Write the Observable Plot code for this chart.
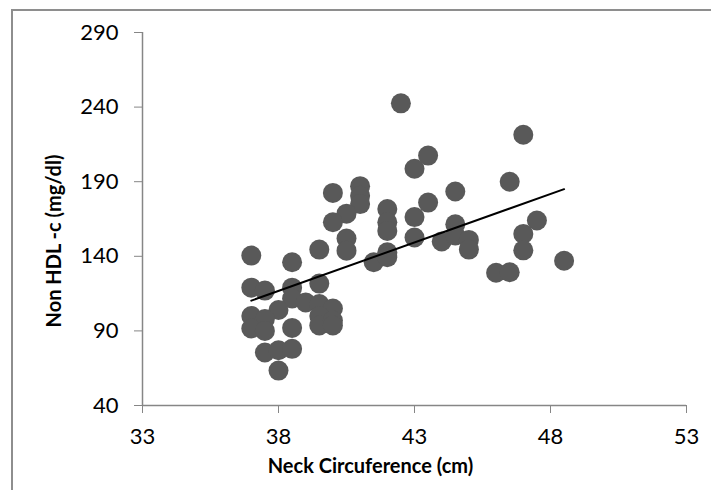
<!DOCTYPE html>
<html>
<head>
<meta charset="utf-8">
<script src="https://cdn.jsdelivr.net/npm/d3@7"></script>
<script src="https://cdn.jsdelivr.net/npm/@observablehq/plot@0.6"></script>
<style>
  html, body { margin: 0; padding: 0; background: white; }
  #wrap { position: relative; width: 711px; height: 490px; overflow: hidden; }
  #frame { position: absolute; left: 11px; top: 9px; width: 800px; height: 600px;
           border-left: 2px solid #8e8e8e; border-top: 2px solid #8e8e8e; pointer-events: none; z-index: 2; }
  #chart { position: absolute; left: 0; top: 0; }
</style>
</head>
<body>
<div id="wrap"><div id="chart"></div><div id="frame"></div></div>
<script>
// Neck circumference (cm)
const neck = [37, 38.5, 39.5, 37, 37.5, 38.5, 38.5, 39.5, 39, 39.5,
              40, 38, 37, 37.5, 37, 37.5, 38.5, 39.5, 39.5, 40,
              40, 37.5, 38, 38.5, 38, 40, 41, 41, 41, 40.5,
              40, 40.5, 40.5, 42, 42, 42, 43, 43, 43, 43.5,
              41.5, 42, 42, 42.5, 43.5, 44.5, 44.5, 44, 44.5, 45,
              45, 46, 46.5, 47, 46.5, 47.5, 47, 47, 48.5];
// Non HDL-c (mg/dl)
const nonHdl = [140.5, 136, 144.5, 119, 117, 119, 111.7, 121.7, 109, 108,
                105, 104, 100, 98, 91.6, 90, 92, 100, 93.6, 97,
                93.6, 75.5, 77, 78, 63.4, 182.5, 187, 180.6, 175, 168.6,
                162.8, 151.9, 143.8, 171.7, 162.8, 157, 166.3, 152.6, 198.7, 176,
                136, 142.7, 139.4, 242.5, 207.5, 183.4, 161.4, 150, 154, 151,
                144.5, 129, 129.3, 221.5, 190, 164, 155, 144, 137];
// Linear trend line end points
const trendX = [37, 48.5];
const trendY = [110.3, 185];
// Axis ticks
const xTicks = [33, 38, 43, 48, 53];
const yTicks = [40, 90, 140, 190, 240, 290];
const xTitle = "Neck Circuference (cm)";
const yTitle = "Non HDL -c (mg/dl)";

const points = neck.map((x, i) => ({x, y: nonHdl[i]}));
const trend = trendX.map((x, i) => ({x, y: trendY[i]}));

const axisGray = "#868686";
const chart = Plot.plot({
  width: 711,
  height: 490,
  marginLeft: 142,
  marginRight: 25,
  marginTop: 32,
  marginBottom: 85,
  style: {fontFamily: "Lato, 'Open Sans', sans-serif", fontSize: "22px", background: "transparent"},
  x: {domain: [33, 53]},
  y: {domain: [40, 290]},
  marks: [
    Plot.axisX({ticks: xTicks, tickSize: 8, tickPadding: 15, stroke: axisGray, fill: "black",
                label: null, fontSize: 22}),
    Plot.axisY({ticks: yTicks, tickSize: 8, tickPadding: 16, stroke: axisGray, fill: "black",
                label: null, fontSize: 22}),
    Plot.ruleX([33], {stroke: axisGray, strokeWidth: 1.5}),
    Plot.ruleY([40], {stroke: axisGray, strokeWidth: 1.5}),
    Plot.dot(points, {x: "x", y: "y", r: 10, fill: "#595959", stroke: "none"}),
    Plot.line(trend, {x: "x", y: "y", stroke: "black", strokeWidth: 2}),
    Plot.text([xTitle], {text: d => d, frameAnchor: "bottom", textAnchor: "middle", dx: -44, dy: 67,
                         fontWeight: "bold", fontSize: 20, fill: "black"}),
    Plot.text([yTitle], {text: d => d, frameAnchor: "left", textAnchor: "middle", rotate: -90, dx: -88, dy: 22,
                         fontWeight: "bold", fontSize: 20, fill: "black"})
  ]
});
document.getElementById("chart").appendChild(chart);
</script>
</body>
</html>
